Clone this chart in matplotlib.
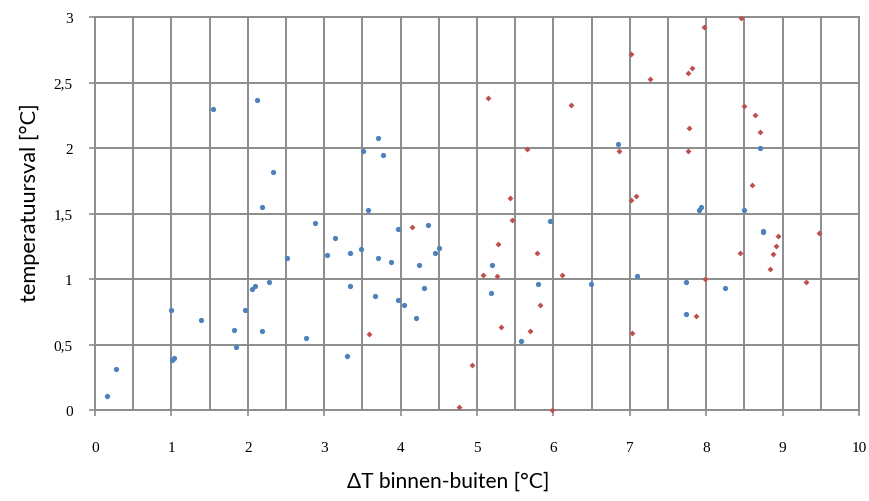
import matplotlib
matplotlib.use("Agg")
import matplotlib.pyplot as plt
from matplotlib.ticker import MultipleLocator, FuncFormatter

# blue series (circles)
blue_x = [0.16, 0.28, 0.99, 1.01, 1.04, 1.39, 1.54, 1.82, 1.85, 1.96,
          2.05, 2.09, 2.12, 2.18, 2.18, 2.28, 2.33, 2.51, 2.76, 2.88,
          3.04, 3.14, 3.30, 3.34, 3.34, 3.48, 3.51, 3.57, 3.66, 3.70,
          3.70, 3.77, 3.87, 3.96, 3.96, 4.04, 4.20, 4.24, 4.31, 4.36,
          4.45, 4.50, 5.18, 5.20, 5.57, 5.80, 5.96, 6.49, 6.84, 7.10,
          7.74, 7.74, 7.90, 7.93, 8.25, 8.49, 8.70, 8.74, 8.75]
blue_y = [0.11, 0.31, 0.76, 0.38, 0.40, 0.69, 2.30, 0.61, 0.48, 0.76,
          0.92, 0.95, 2.37, 1.55, 0.60, 0.98, 1.82, 1.16, 0.55, 1.43,
          1.18, 1.31, 0.41, 1.20, 0.95, 1.23, 1.98, 1.53, 0.87, 2.08,
          1.16, 1.95, 1.13, 1.38, 0.84, 0.80, 0.70, 1.11, 0.93, 1.41,
          1.20, 1.24, 0.89, 1.11, 0.53, 0.96, 1.44, 0.96, 2.03, 1.02,
          0.73, 0.98, 1.53, 1.55, 0.93, 1.53, 2.00, 1.37, 1.36]

# red series (diamonds)
red_x = [3.59, 4.15, 4.77, 4.94, 5.08, 5.15, 5.26, 5.28, 5.31, 5.43,
         5.46, 5.65, 5.70, 5.78, 5.82, 5.98, 6.11, 6.23, 6.86, 7.02,
         7.02, 7.03, 7.08, 7.27, 7.76, 7.76, 7.77, 7.82, 7.86, 7.97,
         7.98, 8.44, 8.46, 8.49, 8.60, 8.64, 8.71, 8.84, 8.87, 8.92,
         8.94, 9.30, 9.47]
red_y = [0.58, 1.40, 0.02, 0.34, 1.03, 2.38, 1.02, 1.27, 0.63, 1.62,
         1.45, 1.99, 0.60, 1.20, 0.80, 0.00, 1.03, 2.33, 1.98, 2.72,
         1.60, 0.59, 1.63, 2.53, 2.57, 1.98, 2.15, 2.61, 0.72, 2.92,
         1.00, 1.20, 2.99, 2.32, 1.72, 2.25, 2.12, 1.08, 1.19, 1.25,
         1.33, 0.98, 1.35]

x_title = "ΔT binnen-buiten [°C]"
y_title = "temperatuursval [°C]"

grid_col = "#8c8c8c"
W, H = 870, 502

fig = plt.figure(figsize=(8.7, 5.02), dpi=100)
ax = fig.add_axes([95/W, 1 - 411/H, 764/W, 393/H])

ax.plot(blue_x, blue_y, "o", color="#4f81bd", markersize=3.8, markeredgewidth=0, clip_on=False, zorder=3)
ax.plot(red_x, red_y, "D", color="#c0504d", markersize=3.0, markeredgewidth=0, clip_on=False, zorder=3)

ax.set_xlim(0, 10)
ax.set_ylim(0, 3)

ax.xaxis.set_major_locator(MultipleLocator(1))
ax.xaxis.set_minor_locator(MultipleLocator(0.5))
ax.yaxis.set_major_locator(MultipleLocator(0.5))

ax.grid(True, which="both", color=grid_col, linewidth=1.4, zorder=0)
ax.set_axisbelow(True)
for s in ax.spines.values():
    s.set_color(grid_col)
    s.set_linewidth(1.4)

def fmt(v, pos):
    if abs(v - round(v)) < 1e-9:
        return str(int(round(v)))
    return ("%g" % v).replace(".", ",")

ax.xaxis.set_major_formatter(FuncFormatter(fmt))
ax.yaxis.set_major_formatter(FuncFormatter(fmt))

ax.tick_params(axis="x", which="major", direction="out", length=4, width=1.2, color=grid_col, pad=18)
ax.tick_params(axis="x", which="minor", length=0)
ax.tick_params(axis="y", which="major", direction="out", length=4, width=1.2, color=grid_col, pad=12)
for lab in ax.get_xticklabels() + ax.get_yticklabels():
    lab.set_family("Liberation Serif")
    lab.set_fontsize(11)

tx = fig.text(448/W, 1 - 482/H, x_title, family="Lato", fontsize=15,
              ha="center", va="center")
ty = fig.text(30/W, 1 - 203/H, y_title, family="Lato", fontsize=15,
              ha="center", va="center", rotation=90)

# scale the titles so their lengths match the original picture
r = fig.canvas.get_renderer()
tx.set_fontsize(15 * 203 / tx.get_window_extent(r).width)
ty.set_fontsize(15 * 199 / ty.get_window_extent(r).height)

fig.savefig("out.png", dpi=100)
